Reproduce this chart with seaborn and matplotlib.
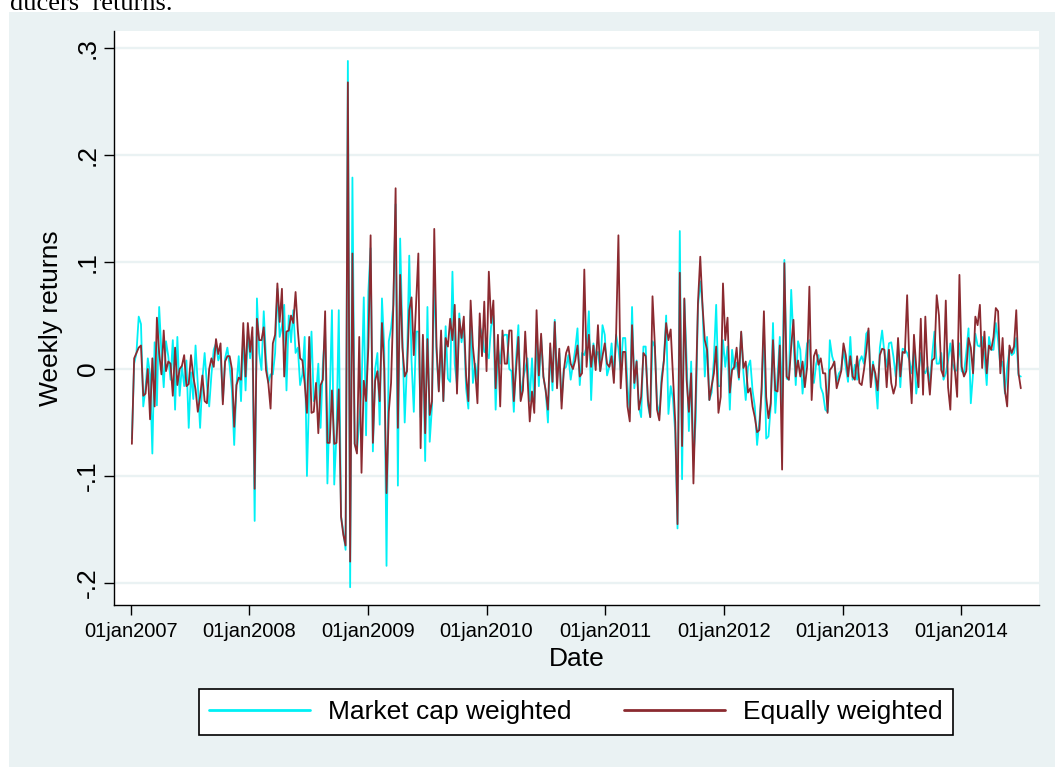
import numpy as np
import pandas as pd
import matplotlib
matplotlib.use("Agg")
import matplotlib.pyplot as plt
from matplotlib.patches import Rectangle
import seaborn as sns

# weekly returns in percent (first week 05jan2007)
ew_2007 = [-7.0, 1.0, 1.5, 2.0, 2.2, -2.5, -2.3, 0.0, -4.7, 1.0, -3.5, 4.8, 1.5, -0.5, 3.6, -0.2, 0.7, 0.5,
           -2.5, 2.0, -1.5, 0.0, 0.3, 1.3, -1.6, -1.4, 1.3, -0.7, -1.9, -4.0, -2.6, -0.6, -3.0, -3.2, 0.0,
           1.0, 0.2, 2.8, 1.4, 2.4, -3.3, 0.7, 1.2, 1.2, 0.0, -5.4, -1.5, -0.8, -1.0, 4.3, -0.7, 4.3]
ew_2008 = [1.6, 3.9, -11.2, 4.7, 2.7, 2.7, 3.9, -0.1, -1.3, -3.7, 2.4, 3.2, 8.0, 4.4, 7.5, -0.7, 3.5, 3.6,
           5.0, 4.3, 7.2, 3.6, 1.0, 0.8, -1.3, -4.1, 3.0, -4.1, -4.0, -1.3, -6.0, -1.5, -1.0, 5.4, -6.9,
           -6.9, -2.0, -7.0, -6.9, -1.9, -13.8, -15.5, -16.5, 26.8, -18.0, 10.8, -7.0, -7.9, 3.0, -9.7,
           -1.1, -3.0]
ew_2009 = [2.0, 12.5, -6.9, -1.1, -0.2, -3.0, 4.3, 0.0, -11.6, -4.0, -1.3, 6.0, 16.9, -5.5, 8.8, 2.0, -0.7,
           -0.2, 5.5, 6.7, 1.3, 6.0, 10.8, -7.4, 3.2, -6.0, 2.8, -4.3, -3.0, 13.1, 2.1, -2.1, 3.6, -3.0,
           2.9, 2.1, 4.7, 2.7, 6.0, -2.3, 4.7, 2.9, 4.9, -0.6, -3.0, 6.4, 2.1, -0.1, -3.2, 5.2, 1.2, 6.3]
ew_2010 = [-0.2, 9.1, 4.3, 6.4, -1.8, 3.2, -3.5, 3.6, 0.5, 0.5, 3.6, 3.6, -3.0, 0.0, 3.0, -3.0, -2.0, 3.5,
           -0.7, -4.9, -2.1, -4.1, 5.5, -0.6, 3.3, -0.7, -2.0, -3.8, 2.4, -1.2, 4.4, -1.8, 1.9, -3.7, -0.1,
           1.5, 2.1, 0.5, 0.0, 0.8, 2.2, -0.7, -0.4, 9.3, 0.2, 3.2, 0.2, 2.2, -0.1, 4.1, -0.2, 1.2]
ew_2011 = [2.4, 0.5, 0.2, 1.2, -1.3, 3.3, 12.5, -1.8, 1.6, 1.6, -3.5, -4.9, 4.1, -1.3, 0.7, -3.8, -2.6, 1.5,
           1.2, -2.9, -4.5, 6.8, 2.4, -3.8, -4.8, -1.3, 0.8, 4.3, 2.7, 3.7, -0.7, -5.0, -14.5, 9.0, -7.2,
           6.6, -1.0, -4.0, -0.4, -10.7, -2.6, 6.2, 10.5, 5.9, 2.7, 1.8, -2.9, -1.6, -0.4, 2.1, -4.1, -2.6]
ew_2012 = [8.0, 2.7, 4.8, -2.2, -0.1, 0.2, 2.0, -0.8, 3.5, 0.1, 0.7, -2.2, -1.8, -3.5, -4.5, -5.9, -5.7,
           -1.7, 5.4, -2.6, -4.6, -3.2, 2.7, -2.0, -2.1, 2.2, -9.4, 9.9, -0.7, -1.0, 2.1, 4.6, -0.7, 0.8,
           -0.7, 0.7, -1.7, 0.2, 7.7, -2.9, 1.2, 1.8, 0.4, 1.0, -0.4, -0.4, -4.1, -0.1, 0.2, 0.7, -1.8, -1.0]
ew_2013 = [-0.2, 2.4, 1.3, -0.7, 1.2, -0.7, -1.0, 1.2, -1.3, -1.5, -0.1, 1.6, 3.8, -1.7, 0.4, -0.4, -2.0,
           1.3, 1.9, 1.8, -1.7, 1.8, -1.3, -2.3, -1.5, 2.9, -0.7, 1.6, 1.5, 6.9, 0.4, -3.2, 3.2, 0.2, -1.7,
           4.7, -2.4, 4.9, -0.1, -2.4, 0.8, 1.0, 6.9, 5.0, -0.1, -0.7, 6.4, -1.7, -3.8, 2.7, -0.1, -2.6]
ew_2014 = [8.8, 0.2, -0.7, -0.2, 2.9, 2.0, -0.4, 4.9, 4.1, 6.0, 0.1, 3.5, -0.4, 2.2, 1.8, 3.0, 5.7, 5.4,
           -0.4, 2.9, -2.0, -3.5, 2.2, 1.5, 2.1, 5.5, -0.4, -1.8]

mc_2007 = [-6.5, 0.5, 1.5, 4.9, 4.2, -3.5, -1.8, 1.0, -0.5, -7.9, 2.5, -3.4, 5.8, 1.5, -1.7, 2.6, 1.2, -1.0,
           2.7, -3.8, 3.0, -2.5, 0.3, -1.6, 0.8, -5.5, -0.3, -2.8, 2.2, -1.5, -5.5, -1.0, 1.5, -1.5, -3.5,
           -0.5, 1.8, 2.4, 0.8, 1.5, -3.0, 1.0, 2.0, 0.3, -2.0, -7.1, -1.5, 1.2, -3.0, 3.2, -2.0, 3.5]
mc_2008 = [1.0, 3.0, -14.2, 6.6, 1.5, -0.1, 5.4, 1.0, -1.3, -0.5, -0.5, 1.5, 7.5, 3.0, 4.0, 6.0, -2.0, 5.0,
           2.5, 5.5, 1.5, 2.0, -1.5, -0.5, 3.0, -10.0, -2.0, 3.5, -3.0, -2.5, 0.5, -5.5, 0.5, 3.5, -10.7,
           -3.0, 5.5, -10.8, -6.0, 5.5, -13.8, -15.2, -16.9, 28.8, -20.4, 17.9, -7.0, -7.7, -4.8, -2.0,
           6.7, -6.2]
mc_2009 = [7.2, 11.3, -7.7, 0.0, 1.5, -5.2, 6.6, 2.0, -18.4, 2.6, 3.8, 6.0, 15.4, -10.9, 12.2, 3.0, -5.0,
           0.5, 10.6, 0.8, -4.0, 3.5, 3.5, -4.5, 3.0, -8.6, 5.8, -6.8, -3.5, 9.0, 1.5, -2.0, 2.5, -3.0,
           4.0, -0.9, -1.2, 9.1, 0.5, -1.5, 5.2, 2.5, 4.0, -1.8, -3.7, 5.5, -1.3, 0.5, -1.0, 4.0, 3.3, 1.6]
mc_2010 = [1.5, 1.0, 4.0, 5.0, -3.8, 2.0, 0.5, 3.0, 3.2, 3.2, 0.0, -0.2, -4.0, 1.0, 4.1, -2.8, -1.0, 0.0,
           1.0, -3.0, 1.0, -3.2, 3.0, -1.6, 3.0, -0.7, -2.0, -5.0, 2.0, -2.0, 4.6, -1.0, 1.5, -3.0, 0.0,
           0.2, 1.3, -1.0, 0.4, 1.8, 3.8, -1.5, 1.5, 1.3, 2.1, 5.4, -2.9, 2.4, 1.2, 1.6, -0.2, 4.1]
mc_2011 = [3.2, -0.6, 0.2, 2.4, -0.7, 3.2, 1.9, -0.1, 2.9, 2.9, -1.6, -4.1, 5.8, -1.8, 0.8, -3.5, -4.5, 2.1,
           2.1, -3.4, -4.5, 2.6, 2.1, -3.2, -4.3, -0.7, 0.8, 5.0, -4.2, -1.6, -2.8, -6.0, -14.9, 12.9,
           -10.3, 6.5, 0.9, -5.8, 0.7, -8.5, -4.8, 5.9, 8.2, 5.9, -0.7, 3.0, -2.9, -2.2, 0.9, 6.0, -1.6, -1.6]
mc_2012 = [2.7, 0.2, 2.1, -3.8, 1.8, 0.0, 0.6, -1.0, 3.4, -0.4, -2.9, 0.2, 0.8, -2.0, -3.5, -7.1, -4.9, -2.3,
           4.1, -6.5, -6.3, -3.5, 4.3, -4.1, -0.7, 3.0, -3.5, 10.2, -0.9, -1.0, 7.4, 2.7, -1.5, 2.6, 1.8,
           -2.3, 0.2, 2.4, 2.7, -1.0, -1.3, 0.5, 1.3, -1.7, -2.3, -3.8, -4.0, 2.7, 1.2, 0.5, -1.2, -0.4]
mc_2013 = [-0.1, 1.8, 0.2, -1.2, 3.0, -1.0, 0.4, -1.0, 0.7, 1.2, 0.5, 3.3, 3.6, -1.3, 0.7, -1.0, -3.7, 2.0,
           3.6, 1.5, 0.2, 2.4, 2.5, 1.1, -0.7, 2.1, -1.7, 1.9, 1.8, 1.5, 0.8, -0.4, 1.8, -2.3, -0.4, 1.5,
           -0.1, -0.4, 0.2, -1.3, 1.3, 3.5, 0.5, 0.5, 1.5, -1.0, -0.4, 0.8, 2.4, 0.5, -0.2, -0.1]
mc_2014 = [2.4, -0.2, -0.4, 1.5, 3.8, -3.2, -0.4, 3.3, 2.2, 2.1, 3.0, 1.2, -1.5, 3.0, 1.8, 1.8, 4.3, 2.7,
           0.2, 0.7, -2.3, 0.2, 1.8, 1.3, 1.5, 2.9, -0.6, -0.7]

years = [2007, 2008, 2009, 2010, 2011, 2012, 2013, 2014]
x_tick_labels = ["01jan2007", "01jan2008", "01jan2009", "01jan2010",
                 "01jan2011", "01jan2012", "01jan2013", "01jan2014"]
y_ticks = [-0.2, -0.1, 0.0, 0.1, 0.2, 0.3]
y_tick_labels = ["-.2", "-.1", "0", ".1", ".2", ".3"]

ew = np.array(ew_2007 + ew_2008 + ew_2009 + ew_2010 + ew_2011 + ew_2012 + ew_2013 + ew_2014) / 100
mc = np.array(mc_2007 + mc_2008 + mc_2009 + mc_2010 + mc_2011 + mc_2012 + mc_2013 + mc_2014) / 100
dates = pd.date_range("2007-01-05", periods=len(ew), freq="7D")
df = pd.DataFrame({"date": dates, "mc": mc, "ew": ew})

sns.set_theme(style="white")
plt.rcParams["font.family"] = ["Liberation Sans", "DejaVu Sans"]
plt.rcParams["text.color"] = "black"
plt.rcParams["axes.labelcolor"] = "black"
plt.rcParams["xtick.color"] = "black"
plt.rcParams["ytick.color"] = "black"

W, H = 1055, 767
fig = plt.figure(figsize=(W / 100, H / 100), dpi=100, facecolor="white")
bg = "#eaf2f3"
fig.patches.append(Rectangle((9 / W, 0), 1, (H - 12) / H, transform=fig.transFigure,
                             facecolor=bg, edgecolor="none", zorder=-10))
# running text of the page above the graph, cut off at the top edge
fig.text(10 / W, 1 - 10 / H, "ducers\u2019 returns.", family="Liberation Serif", fontsize=19,
         va="baseline", ha="left", color="black")

ax = fig.add_axes([113.7 / W, 1 - 605 / H, (1039 - 113.7) / W, (605 - 31) / H])
ax.set_facecolor("white")

cyan = "#00f0f5"
maroon = "#8b2a30"
sns.lineplot(data=df, x="date", y="mc", color=cyan, lw=1.3, ax=ax, label="Market cap weighted")
sns.lineplot(data=df, x="date", y="ew", color=maroon, lw=1.3, ax=ax, label="Equally weighted")

ax.set_xlim(pd.Timestamp("2006-11-10"), pd.Timestamp("2014-08-29"))
ax.set_ylim(-0.2206, 0.316)

ax.set_xticks([pd.Timestamp(f"{y}-01-01") for y in years])
ax.set_xticklabels(x_tick_labels, fontsize=14.5)
ax.set_yticks(y_ticks)
ax.set_yticklabels(y_tick_labels, fontsize=19, rotation=90, va="center")

ax.grid(axis="y", color=bg, lw=1.7)
ax.grid(axis="x", visible=False)
ax.set_axisbelow(True)
for s in ["top", "right"]:
    ax.spines[s].set_visible(False)
for s in ["left", "bottom"]:
    ax.spines[s].set_color("black")
    ax.spines[s].set_linewidth(1.0)
ax.tick_params(axis="both", which="major", length=7, width=1.0, color="black",
               direction="out", left=True, bottom=True)
ax.tick_params(axis="x", pad=5)
ax.tick_params(axis="y", pad=3)

ax.set_xlabel("Date", fontsize=19, va="baseline")
ax.xaxis.set_label_coords(0.5, (605 - 666) / 574)
ax.set_ylabel("Weekly returns", fontsize=19, va="center")
ax.yaxis.set_label_coords((51 - 113.7) / 925.3, 0.5)

handles, labels = ax.get_legend_handles_labels()
ax.get_legend().remove()
leg = fig.legend(handles, labels, loc="center", bbox_to_anchor=(576 / W, 1 - 712 / H),
                 ncol=2, fontsize=19, frameon=True, fancybox=False, framealpha=1,
                 facecolor="white", handlelength=3.8, handletextpad=0.7,
                 columnspacing=2.0, borderpad=0.4, borderaxespad=0)
leg.get_frame().set_edgecolor("black")
leg.get_frame().set_linewidth(1.2)
for line in leg.get_lines():
    line.set_linewidth(2.0)

fig.savefig("out.png", dpi=100, facecolor="white")
